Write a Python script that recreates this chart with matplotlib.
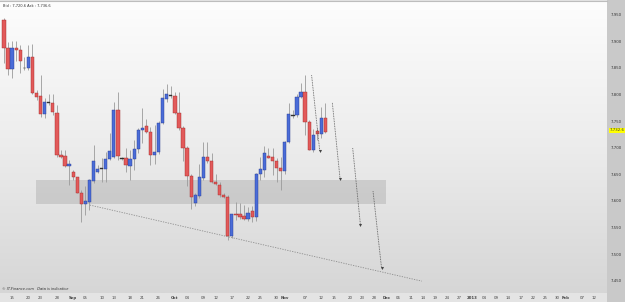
import numpy as np
import matplotlib
matplotlib.use("Agg")
import matplotlib.pyplot as plt
from matplotlib.colors import LinearSegmentedColormap
from matplotlib.patches import Rectangle

# daily candles, Aug 13 -> Nov 13 (slot index = position on the axis)
opens = [7940, 7888, 7847, 7888, 7884, 7849, 7849, 7871, 7803, 7797,
         7764, 7784, 7784, 7766, 7687, 7684, 7665, 7654, 7644, 7615,
         7594, 7598, 7638, 7655, 7659, 7659, 7679, 7682, 7771, 7680,
         7680, 7666, 7678, 7697, 7733, 7740, 7730, 7686, 7692, 7746,
         7791, 7798, 7797, 7766, 7736, 7700, 7647, 7595, 7609, 7643,
         7683, 7674, 7636, 7630, 7611, 7608, 7534, 7576, 7575, 7571,
         7565, 7580, 7569, 7650, 7658, 7684, 7682, 7675, 7661, 7656,
         7711, 7762, 7761, 7796, 7804, 7749, 7695, 7732, 7726, 7755]
highs = [7943, 7899, 7901, 7900, 7893, 7871, 7893, 7894, 7808, 7836,
         7793, 7800, 7800, 7780, 7695, 7695, 7677, 7658, 7645, 7620,
         7627, 7641, 7705, 7667, 7680, 7692, 7727, 7786, 7805, 7683,
         7700, 7695, 7714, 7737, 7774, 7753, 7739, 7743, 7750, 7811,
         7820, 7815, 7805, 7805, 7740, 7703, 7650, 7615, 7670, 7711,
         7711, 7690, 7650, 7635, 7615, 7610, 7575, 7598, 7596, 7592,
         7589, 7590, 7652, 7683, 7703, 7700, 7700, 7680, 7683, 7713,
         7783, 7770, 7800, 7821, 7836, 7752, 7735, 7737, 7777, 7784]
lows = [7859, 7836, 7830, 7862, 7840, 7846, 7845, 7800, 7789, 7757,
        7756, 7780, 7762, 7682, 7680, 7664, 7630, 7639, 7614, 7561,
        7573, 7583, 7633, 7652, 7636, 7636, 7676, 7680, 7677, 7677,
        7655, 7639, 7658, 7690, 7709, 7728, 7667, 7670, 7688, 7744,
        7786, 7793, 7763, 7733, 7674, 7627, 7584, 7590, 7605, 7640,
        7672, 7633, 7630, 7608, 7605, 7526, 7530, 7564, 7566, 7563,
        7562, 7560, 7562, 7640, 7644, 7680, 7648, 7636, 7620, 7650,
        7708, 7755, 7758, 7793, 7724, 7695, 7692, 7714, 7719, 7728]
closes = [7888, 7847, 7888, 7883, 7863, 7850, 7870, 7803, 7796, 7764,
          7786, 7786, 7767, 7686, 7683, 7666, 7669, 7644, 7615, 7594,
          7599, 7639, 7674, 7659, 7661, 7679, 7694, 7771, 7684, 7679,
          7667, 7678, 7697, 7734, 7737, 7730, 7686, 7692, 7746, 7793,
          7800, 7797, 7766, 7736, 7700, 7647, 7607, 7611, 7645, 7683,
          7674, 7636, 7632, 7611, 7607, 7534, 7575, 7573, 7570, 7565,
          7578, 7569, 7650, 7659, 7690, 7680, 7674, 7661, 7656, 7711,
          7763, 7760, 7796, 7804, 7749, 7695, 7724, 7726, 7755, 7730]

tick_pos = [2, 6, 9, 13, 17, 20, 24, 27, 31, 34, 38, 42, 45, 49, 52, 56, 60, 63, 67, 69,
            74, 78, 81, 85, 88, 91, 94, 97, 100, 103, 106, 109, 112, 115, 118, 121, 124,
            127, 130, 133, 136, 138, 142, 145]
tick_lab = ['15', '20', '23', '28', 'Sep', '05', '10', '13', '18', '21', '26', 'Oct', '04',
            '09', '12', '17', '22', '25', '30', 'Nov', '07', '12', '15', '20', '23', '28',
            'Dec', '06', '11', '14', '19', '24', '27', '2013', '04', '09', '14', '17', '22',
            '25', '30', 'Feb', '07', '12']
month_lab = ['Sep', 'Oct', 'Nov', 'Dec', '2013', 'Feb']
price_ticks = [7450, 7500, 7550, 7600, 7650, 7700, 7750, 7800, 7850, 7900, 7950]

# drawings on the chart
zone_x = [7.9, 93.9]
zone_y = [7594, 7639]
trend_x = [21.1, 102.7]
trend_y = [7592, 7449]
arrow_x0 = [75.6, 80.7, 85.7, 90.7]
arrow_y0 = [7836, 7784, 7699, 7618]
arrow_x1 = [77.6, 82.6, 87.6, 92.8]
arrow_y1 = [7694, 7641, 7555, 7473]
last_price = 7732.6

W, H = 625, 302
fig = plt.figure(figsize=(W / 100, H / 100), dpi=100)
fig.patch.set_facecolor('#e4e4e4')
fig.add_artist(Rectangle((607 / W, 0), 18 / W, 1, transform=fig.transFigure,
                         fc='#c9c9c9', ec='none', zorder=-1))

ax = fig.add_axes([0, 9 / H, 607 / W, 292 / H])
ax.set_zorder(1)

cmap = LinearSegmentedColormap.from_list('bg', ['#fdfdfd', '#ececec', '#d6d6d6'])
ax.imshow(np.linspace(0, 1, 256).reshape(-1, 1), cmap=cmap, aspect='auto',
          extent=[0, 1, 0, 1], transform=ax.transAxes, zorder=0)

ax.add_patch(Rectangle((zone_x[0], zone_y[0]), zone_x[1] - zone_x[0], zone_y[1] - zone_y[0],
                       fc='#a8a8a8', alpha=0.42, ec='none', zorder=1))
ax.plot(trend_x, trend_y, ls=(0, (1.5, 1.5)), color='#8c8c8c', lw=0.6, zorder=2)

o = np.array(opens); h = np.array(highs); l = np.array(lows); c = np.array(closes)
x = np.arange(len(o))
ax.vlines(x, l, h, color='#9a9a9a', lw=0.6, zorder=3)
up = c >= o
face = np.where(up, '#4a6cd8', '#e25a5a')
edge = np.where(up, '#26398e', '#a02828')
doji = np.abs(c - o) < 2.5
face = np.where(doji, '#303030', face)
edge = np.where(doji, '#303030', edge)
body = np.maximum(np.abs(c - o), 1.5)
ax.bar(x, body, bottom=np.minimum(o, c), width=0.8, color=face, edgecolor=edge,
       linewidth=0.3, zorder=4)

for i in range(len(arrow_x0)):
    ax.plot([arrow_x0[i], arrow_x1[i]], [arrow_y0[i], arrow_y1[i]], ls=(0, (1, 1)),
            color='#555555', lw=0.6, zorder=5)
    ax.plot(arrow_x1[i], arrow_y1[i], marker='v', ms=2.2, color='#444444', mew=0, zorder=5)

ax.set_xlim(-0.98, 148.2)
ax.set_ylim(7426.7, 7975.6)

ax.set_xticks(tick_pos)
ax.set_xticklabels(tick_lab)
for t in ax.get_xticklabels():
    if t.get_text() in month_lab:
        t.set_fontweight('bold')
        t.set_color('#111111')
ax.tick_params(axis='x', length=0, pad=2.2, labelsize=2.8, labelcolor='#444444')

ax.yaxis.tick_right()
ax.set_yticks(price_ticks)
ax.set_yticklabels([f"{v:,}" for v in price_ticks])
ax.tick_params(axis='y', length=0, pad=2.5, labelsize=2.8, labelcolor='#333333')

for s in ['left', 'right', 'bottom']:
    ax.spines[s].set_visible(False)
ax.spines['top'].set_color('#bdbdbd')
ax.spines['top'].set_linewidth(0.8)

ax.text(1.004, last_price, f"{last_price:,.1f}", transform=ax.get_yaxis_transform(),
        ha='left', va='center', fontsize=2.8, color='#333333', clip_on=False, zorder=6,
        bbox=dict(fc='#ffff00', ec='none', pad=0.4))

ax.text(3 / 607, 1 - 3 / 292, "Bid : 7,720.6 Ask : 7,736.6", transform=ax.transAxes,
        ha='left', va='top', fontsize=2.6, color='#333333')
ax.text(2 / 607, 2 / 292, "© IT-Finance.com   Data is indicative", transform=ax.transAxes,
        ha='left', va='bottom', fontsize=2.6, style='italic', color='#333333')

fig.savefig('out.png', dpi=100, facecolor=fig.get_facecolor())
